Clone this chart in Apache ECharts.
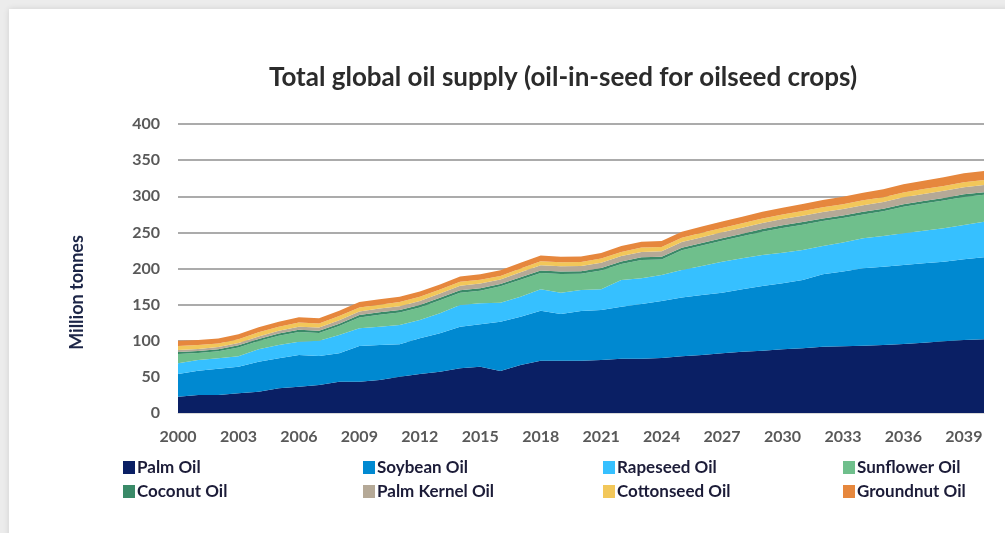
<!DOCTYPE html>
<html>
<head>
<meta charset="utf-8">
<script src="https://cdn.jsdelivr.net/npm/echarts@6/dist/echarts.min.js"></script>
<style>
  html, body { margin: 0; padding: 0; }
  body { width: 1005px; height: 533px; background: #ececec; position: relative; overflow: hidden; }
  .paper { position: absolute; left: 9px; top: 9px; right: -20px; bottom: -20px; background: #fff;
           box-shadow: 0 0 6px rgba(0,0,0,0.12); }
  #chart { position: absolute; left: 0; top: 0; width: 1005px; height: 533px; }
</style>
</head>
<body>
<div class="paper"></div>
<div id="chart"></div>
<script>
  // years 2000 - 2040
  const years = [];
  for (let y = 2000; y <= 2040; y++) years.push(String(y));

  // million tonnes
  const palmOil = [22.6, 24.9, 24.9, 27.2, 29.5, 34.2, 36.4, 38.8, 43.3, 43.3,
    45.7, 50.3, 54, 57.2, 61.8, 64.1, 58, 66.4, 72.4, 72.4,
    72.4, 73.4, 75.2, 75.2, 76, 78.4, 80.3, 82.6, 84.9, 86.2,
    88.2, 89.6, 91.8, 92.3, 93.2, 94.1, 95.5, 97.3, 99.2, 101, 102];
  const soybeanOil = [31.4, 33.6, 36.4, 36.9, 41.5, 41.5, 43.9, 40.1, 39.3, 49.4,
    48.4, 44.7, 49.3, 53.1, 57.7, 58.6, 68.4, 66.9, 69.2, 64.6,
    68.8, 69.2, 71.9, 75.7, 79, 81.6, 83, 83.9, 86.3, 89.6,
    91.3, 94.5, 100.2, 103.7, 107, 108.4, 109.3, 109.9, 110.2, 111.7, 113.5];
  const rapeseedOil = [14.8, 14.9, 14.4, 14.5, 17.1, 18.4, 18.4, 21.2, 25.4, 24.5,
    25.4, 26.8, 25.4, 27.7, 30, 29.1, 26.3, 27.7, 29.6, 29.5,
    29, 28.6, 37, 35.5, 36, 37.9, 40.2, 42.9, 42.9, 42.9,
    42.4, 41.5, 39, 40, 41.6, 42.5, 43.9, 45.1, 46.2, 47.5, 49.3];
  const sunflowerOil = [13, 9.6, 9.6, 12, 11.4, 12.7, 13.3, 10.7, 12.3, 15.1,
    16.6, 17.3, 17.2, 17.9, 16.8, 17.5, 22.6, 23.4, 22.4, 25.9,
    22.7, 26, 22.1, 25.4, 21.6, 27.2, 28.3, 28.9, 30.4, 32.3,
    34.2, 35.1, 34.7, 33.9, 33.1, 34.1, 36.8, 37.6, 38.5, 38.8, 37.2];
  const coconutOil = [2.8, 2.8, 2.9, 3, 3, 3.1, 3.2, 3, 3.3, 3.4,
    3.5, 3.4, 3.5, 3.6, 3.5, 3.4, 3.4, 3.5, 3.6, 3.5,
    3.4, 3.5, 3.5, 3.6, 3.6, 3.6, 3.6, 3.6, 3.6, 3.6,
    3.6, 3.6, 3.6, 3.6, 3.6, 3.6, 3.6, 3.6, 3.6, 3.6, 3.6];
  const palmKernelOil = [2.6, 2.8, 3, 3.2, 3.5, 3.9, 4.2, 4.4, 4.7, 4.8,
    5, 5.4, 5.6, 5.8, 6.3, 6.4, 6, 6.8, 7.2, 7.3,
    7.2, 7.4, 7.5, 7.6, 7.7, 7.9, 8, 8.2, 8.4, 8.5,
    8.7, 8.8, 9, 9, 9.2, 9.3, 9.4, 9.6, 9.8, 10, 10.1];
  const cottonseedOil = [5.5, 5.4, 5, 5.2, 5.8, 5.6, 5.8, 5.8, 6, 5.6,
    5.3, 5.8, 6, 5.6, 5.5, 5.3, 5, 5.4, 5.8, 5.6,
    5.4, 5.6, 5.8, 5.9, 5.9, 6, 6, 6.1, 6.2, 6.2,
    6.3, 6.4, 6.4, 6.5, 6.6, 6.6, 6.7, 6.8, 6.8, 6.9, 6.9];
  const groundnutOil = [7.3, 7, 6.8, 7, 6.8, 7, 7.2, 7, 7.3, 7.5,
    7.4, 7.3, 7, 7.1, 7.4, 7.6, 7.8, 7.9, 7.8, 7.5,
    7.6, 7.8, 8, 8.1, 8.2, 8.4, 8.6, 8.8, 9, 9.3,
    9.5, 9.8, 10.1, 10.4, 10.7, 11, 11.3, 11.6, 11.9, 12.2, 12.4];

  const names = ['Palm Oil', 'Soybean Oil', 'Rapeseed Oil', 'Sunflower Oil',
    'Coconut Oil', 'Palm Kernel Oil', 'Cottonseed Oil', 'Groundnut Oil'];
  const values = [palmOil, soybeanOil, rapeseedOil, sunflowerOil,
    coconutOil, palmKernelOil, cottonseedOil, groundnutOil];
  const colors = ['#0a1f64', '#0089d1', '#36c0ff', '#6fbf8c',
    '#3a8a68', '#b5a997', '#f2c75a', '#e6873d'];

  const font = 'Lato, "Open Sans", sans-serif';

  let myChart = echarts.init(document.getElementById('chart'));

  let series = [];
  for (let i = 0; i < names.length; i++) {
    series.push({
      name: names[i],
      type: 'line',
      stack: 'oil',
      data: values[i],
      symbol: 'none',
      lineStyle: { width: 0 },
      itemStyle: { color: colors[i] },
      areaStyle: { color: colors[i], opacity: 1 }
    });
  }

  // four legend columns, two rows each
  const legendCols = [[0, 4], [1, 5], [2, 6], [3, 7]];
  const legendLeft = [118, 358, 598, 838];
  let legends = legendCols.map((c, k) => ({
    left: legendLeft[k],
    top: 454,
    orient: 'vertical',
    itemGap: 7,
    itemWidth: 12,
    itemHeight: 13,
    icon: 'rect',
    selectedMode: false,
    data: c.map(i => names[i]),
    textStyle: { fontFamily: font, fontSize: 17, fontWeight: 'bold', color: '#1c1c38', padding: [0, 0, 0, -3] }
  }));

  let option = {
    animation: false,
    color: colors,
    title: {
      text: 'Total global oil supply (oil-in-seed for oilseed crops)',
      left: 558,
      textAlign: 'center',
      top: 60,
      textStyle: { fontFamily: font, fontSize: 26, fontWeight: 'bold', color: '#2b2b2b' }
    },
    legend: legends,
    grid: { left: 178, right: 21, top: 124, bottom: 120 },
    xAxis: {
      type: 'category',
      boundaryGap: false,
      data: years,
      axisLine: { lineStyle: { color: '#d9d9d9', width: 1 } },
      axisTick: { show: false },
      axisLabel: { interval: 2, margin: 16, fontFamily: font, fontSize: 16, fontWeight: 'bold', color: '#595959' }
    },
    yAxis: {
      type: 'value',
      min: 0,
      max: 400,
      interval: 50,
      name: 'Million tonnes',
      nameLocation: 'middle',
      nameGap: 92,
      nameRotate: 90,
      nameTextStyle: { fontFamily: font, fontSize: 18, fontWeight: 'bold', color: '#1d2647', padding: [0, 48, 0, 0] },
      axisLine: { show: false },
      axisTick: { show: false },
      axisLabel: { margin: 18, fontFamily: font, fontSize: 16, fontWeight: 'bold', color: '#595959' },
      splitLine: { lineStyle: { color: '#8f8f8f', width: 1.5 } }
    },
    series: series
  };

  myChart.setOption(option);
</script>
</body>
</html>
